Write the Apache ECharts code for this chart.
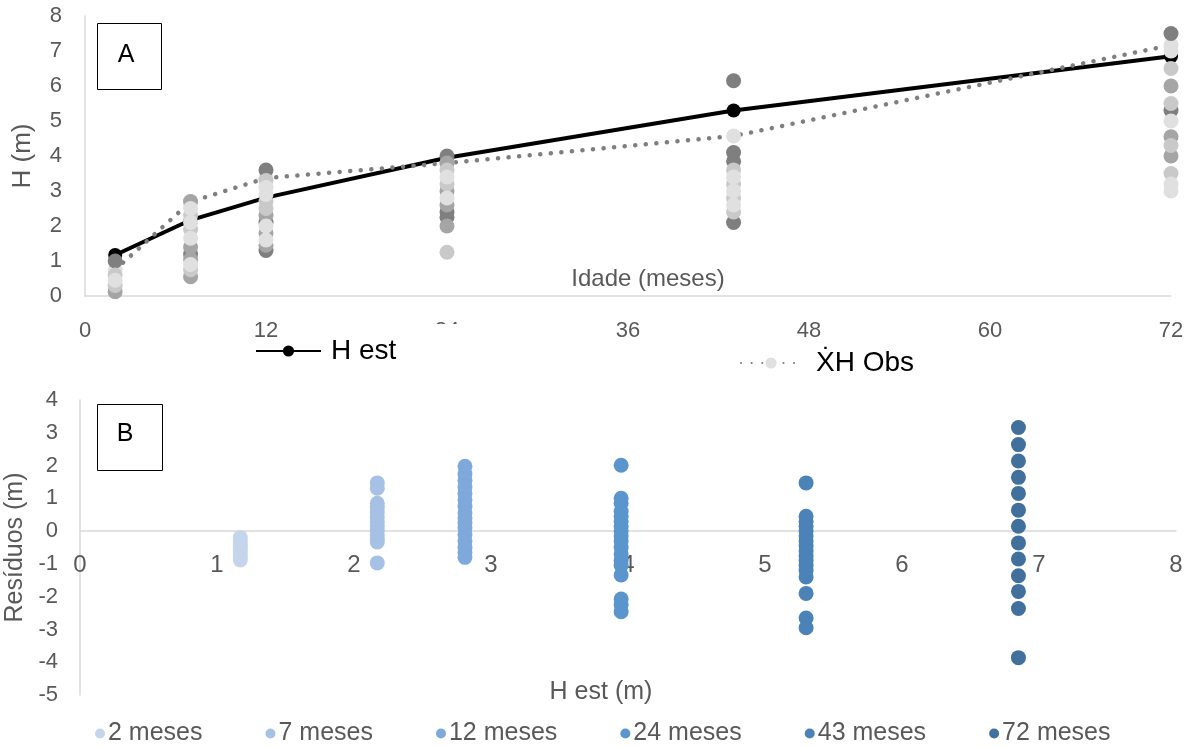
<!DOCTYPE html>
<html>
<head>
<meta charset="utf-8">
<script src="https://cdn.jsdelivr.net/npm/echarts@6/dist/echarts.min.js"></script>
<style>
  html, body { margin: 0; padding: 0; background: #fff; }
  #chart { width: 1197px; height: 747px; }
</style>
</head>
<body>
<div id="chart"></div>
<script>
// ---------- DATA ----------
const months = [2, 7, 12, 24, 43, 72];
const monthTicks = [0, 12, 24, 36, 48, 60, 72];
const hEst = [1.17, 2.17, 2.81, 3.95, 5.3, 6.85];          // H est (m)
const hObsMean = [0.75, 2.69, 3.37, 3.8, 4.57, 7.17];      // ẊH Obs (m)

// observed heights [month, H] grouped by grey shade in panel A
const obsDark  = [[2,1.0],[7,1.2],[12,3.6],[12,2.1],[12,1.3],[24,4.0],[24,2.4],[24,2.25],[43,6.15],[43,4.1],[43,3.85],[43,2.1],[72,7.5],[72,5.3]];
const obsMid   = [[2,0.12],[7,2.7],[7,1.4],[7,1.05],[7,0.55],[12,2.3],[12,1.8],[12,1.45],[24,3.8],[24,3.0],[24,2.6],[24,2.0],[72,6.0],[72,4.55],[72,4.0]];
const obsLight = [[2,0.3],[2,0.6],[7,2.3],[7,1.9],[7,0.75],[12,3.3],[12,2.7],[12,2.5],[24,3.6],[24,3.2],[24,1.25],[43,3.6],[43,3.2],[43,2.8],[43,2.4],[72,6.5],[72,5.5],[72,4.3],[72,3.5]];
const obsPale  = [[2,0.45],[7,2.5],[7,2.1],[7,1.65],[7,0.9],[12,3.1],[12,2.9],[12,2.0],[12,1.6],[24,3.4],[24,2.8],[43,3.4],[43,3.0],[43,2.6],[72,7.0],[72,5.0],[72,3.2],[72,3.0]];

// residuals (m) panel B, per age class
const ageNames = ['2 meses', '7 meses', '12 meses', '24 meses', '43 meses', '72 meses'];
const res2  = [-0.2,-0.3,-0.4,-0.5,-0.6,-0.7,-0.8,-0.88];
const res7  = [1.47,1.31,0.85,0.72,0.58,0.44,0.3,0.16,0.02,-0.12,-0.24,-0.33,-0.97];
const res12 = [1.98,1.75,1.55,1.35,1.15,0.95,0.75,0.55,0.4,0.25,0.1,-0.1,-0.3,-0.5,-0.65,-0.8];
const res24 = [2.01,1.0,0.85,0.6,0.45,0.3,0.15,0.0,-0.15,-0.3,-0.5,-0.7,-0.9,-1.05,-1.34,-2.07,-2.25,-2.46];
const res43 = [1.47,0.45,0.3,0.15,0,-0.15,-0.3,-0.45,-0.6,-0.75,-0.9,-1.05,-1.2,-1.4,-1.9,-2.65,-2.95];
const res72 = [3.16,2.64,2.14,1.64,1.15,0.64,0.15,-0.36,-0.85,-1.36,-1.84,-2.36,-3.86];
const residuals = [res2, res7, res12, res24, res43, res72];

// ---------- STYLE ----------
const FONT = '"Liberation Sans", Arial, sans-serif';
const LABEL = '#595959';
const AXIS = '#d9d9d9';
const greys = { dark: '#7f7f7f', mid: '#a5a5a5', light: '#c9c9c9', pale: '#e0e0e0' };
const blues = ['#c5d5eb', '#a6c1e4', '#7ea9da', '#5a96cd', '#4b82b7', '#41709c'];

// panel B layout: grid height and the pixel offset that brings the x axis to residual 0
const B_TOP = 400, B_HEIGHT = 295;
const resMin = -5, resMax = 4;
const zeroOffset = -B_HEIGHT * (0 - resMin) / (resMax - resMin);

const chart = echarts.init(document.getElementById('chart'), null, { renderer: 'canvas' });

function obsSeries(name, data, color) {
  return {
    name: name, type: 'scatter', xAxisIndex: 0, yAxisIndex: 0,
    data: data, symbol: 'circle', symbolSize: 15,
    itemStyle: { color: color, opacity: 1 }, z: 3
  };
}

const residualSeries = ageNames.map((n, i) => ({
  name: n, type: 'scatter', xAxisIndex: 1, yAxisIndex: 1,
  data: residuals[i].map(r => [hEst[i], r]),
  symbol: 'circle', symbolSize: 15,
  itemStyle: { color: blues[i], opacity: 1 }
}));

const option = {
  animation: false,
  backgroundColor: '#fff',
  textStyle: { fontFamily: FONT },
  grid: [
    { left: 85, right: 26, top: 16, height: 280, outerBoundsMode: 'none' },
    { left: 80, right: 21, top: B_TOP, height: B_HEIGHT, outerBoundsMode: 'none' }
  ],
  xAxis: [
    {
      gridIndex: 0, type: 'value', min: monthTicks[0], max: monthTicks[monthTicks.length - 1], interval: 12,
      axisLine: { show: true, lineStyle: { color: AXIS, width: 1.5 } },
      axisTick: { show: false }, splitLine: { show: false },
      axisLabel: { color: LABEL, fontSize: 22, margin: 24, fontFamily: FONT },
      name: 'Idade (meses)', nameLocation: 'middle', nameGap: -29,
      nameTextStyle: { color: LABEL, fontSize: 24, fontFamily: FONT, padding: [0, 0, 0, 40] }
    },
    {
      gridIndex: 1, type: 'value', min: 0, max: 8, interval: 1,
      position: 'bottom', offset: zeroOffset,
      axisLine: { show: true, onZero: false, lineStyle: { color: AXIS, width: 1.5 } },
      axisTick: { show: false }, splitLine: { show: false },
      axisLabel: { color: LABEL, fontSize: 24, margin: 22, fontFamily: FONT },
      name: 'H est (m)', nameLocation: 'middle', nameGap: 148,
      nameTextStyle: { color: LABEL, fontSize: 25, fontFamily: FONT, padding: [0, 54, 0, 0] }
    }
  ],
  yAxis: [
    {
      gridIndex: 0, type: 'value', min: 0, max: 8, interval: 1,
      axisLine: { show: true, lineStyle: { color: AXIS, width: 1.5 } },
      axisTick: { show: false }, splitLine: { show: false },
      axisLabel: { color: LABEL, fontSize: 22, margin: 23, fontFamily: FONT },
      name: 'H (m)', nameLocation: 'middle', nameGap: 49,
      nameTextStyle: { color: LABEL, fontSize: 26, fontFamily: FONT }
    },
    {
      gridIndex: 1, type: 'value', min: resMin, max: resMax, interval: 1,
      axisLine: { show: true, onZero: false, lineStyle: { color: AXIS, width: 1.5 } },
      axisTick: { show: false }, splitLine: { show: false },
      axisLabel: { color: LABEL, fontSize: 22, margin: 22, fontFamily: FONT },
      name: 'Resíduos (m)', nameLocation: 'middle', nameGap: 44,
      nameTextStyle: { color: LABEL, fontSize: 25, fontFamily: FONT }
    }
  ],
  legend: [
    {
      data: ['H est'], left: 255, top: 337, padding: 0, itemGap: 0,
      itemWidth: 65, itemHeight: 14, z: 200, selectedMode: false,
      textStyle: { fontSize: 28, color: '#000', fontFamily: FONT, padding: [0, 0, 20, 5] }
    },
    {
      data: ['ẊH Obs'], left: 740, top: 349, padding: 0, itemGap: 0,
      itemWidth: 60, itemHeight: 14, z: 200, selectedMode: false,
      textStyle: { fontSize: 28, color: '#000', fontFamily: FONT, padding: [0, 0, 0, 10] }
    },
    {
      data: ageNames, left: 95, top: 721, padding: 0, itemGap: 63,
      icon: 'circle', itemWidth: 10, itemHeight: 10, selectedMode: false,
      textStyle: { fontSize: 25, color: LABEL, fontFamily: FONT, padding: [0, 0, 0, -2] }
    }
  ],
  graphic: [
    { type: 'rect', z: 100, shape: { x: 425, y: 324, width: 50, height: 25 }, style: { fill: '#fff' } },
    { type: 'rect', z: 150, shape: { x: 97.5, y: 23.5, width: 64, height: 66 }, style: { fill: '#fff', stroke: '#000', lineWidth: 1 } },
    { type: 'text', z: 151, x: 126, y: 55, style: { text: 'A', font: '25px ' + FONT, fill: '#000', textAlign: 'center', textVerticalAlign: 'middle' } },
    { type: 'rect', z: 150, shape: { x: 97.5, y: 404.5, width: 65, height: 66 }, style: { fill: '#fff', stroke: '#000', lineWidth: 1 } },
    { type: 'text', z: 151, x: 125, y: 434, style: { text: 'B', font: '25px ' + FONT, fill: '#000', textAlign: 'center', textVerticalAlign: 'middle' } }
  ],
  series: [
    {
      name: 'H est', type: 'line', xAxisIndex: 0, yAxisIndex: 0,
      data: months.map((m, i) => [m, hEst[i]]),
      symbol: 'circle', symbolSize: 14, showAllSymbol: true,
      lineStyle: { color: '#000', width: 4 },
      itemStyle: { color: '#000' }, z: 2
    },
    {
      name: 'ẊH Obs', type: 'line', xAxisIndex: 0, yAxisIndex: 0,
      data: months.map((m, i) => [m, hObsMean[i]]),
      symbol: 'circle', symbolSize: 15, showAllSymbol: true,
      lineStyle: { color: '#7f7f7f', width: 4.5, type: [0.1, 10.5], cap: 'round' },
      itemStyle: { color: greys.pale, borderWidth: 0 }, z: 2
    },
    obsSeries('obs-dark', obsDark, greys.dark),
    obsSeries('obs-mid', obsMid, greys.mid),
    obsSeries('obs-light', obsLight, greys.light),
    obsSeries('obs-pale', obsPale, greys.pale)
  ].concat(residualSeries)
};

chart.setOption(option);
</script>
</body>
</html>
